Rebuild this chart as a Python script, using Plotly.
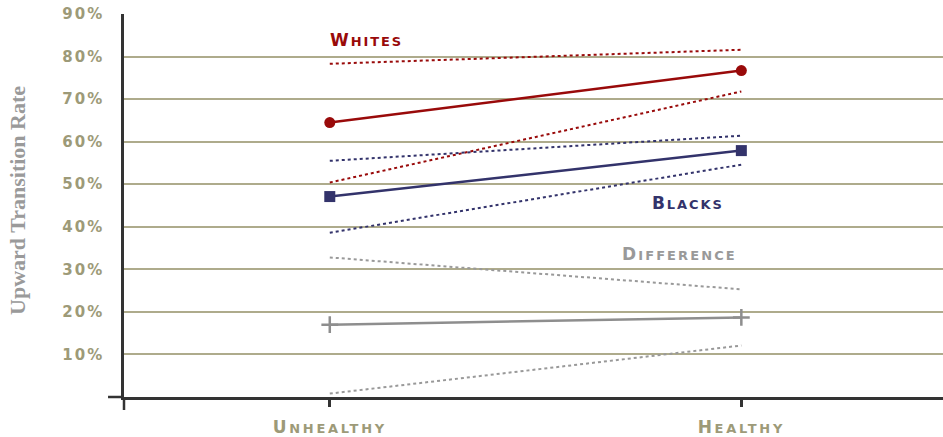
import plotly.graph_objects as go

categories = ["Unhealthy", "Healthy"]
xpos = [0, 1]

whites = [64.5, 76.7]
whites_hi = [78.3, 81.6]
whites_lo = [50.4, 71.8]
blacks = [47.1, 57.9]
blacks_hi = [55.5, 61.4]
blacks_lo = [38.6, 54.6]
diff = [17.0, 18.7]
diff_hi = [32.8, 25.3]
diff_lo = [0.8, 12.1]

y_ticks = [10, 20, 30, 40, 50, 60, 70, 80, 90]
y_ticktext = [f"{v}%" for v in y_ticks]

RED = "#990a0a"
NAVY = "#33336b"
GRAY = "#999999"
OLIVE = "#9d9a78"
GRID = "#aeab8c"
AX = "#333333"


def smallcaps(word, small, spacing):
    return (f"<span style='letter-spacing:{spacing}px'>{word[0].upper()}"
            f"<span style='font-size:{small}px'>{word[1:].upper()}</span></span>")


fig = go.Figure()


def dotted(y, color):
    fig.add_trace(go.Scatter(x=xpos, y=y, mode="lines",
                             line=dict(color=color, width=2, dash="dot"),
                             showlegend=False, hoverinfo="skip"))


for yy, c in [(whites_hi, RED), (whites_lo, RED), (blacks_hi, NAVY), (blacks_lo, NAVY),
              (diff_hi, GRAY), (diff_lo, GRAY)]:
    dotted(yy, c)

fig.add_trace(go.Scatter(x=xpos, y=whites, mode="lines+markers",
                         line=dict(color=RED, width=2.5),
                         marker=dict(symbol="circle", size=11, color=RED), showlegend=False))
fig.add_trace(go.Scatter(x=xpos, y=blacks, mode="lines+markers",
                         line=dict(color=NAVY, width=2.5),
                         marker=dict(symbol="square", size=11, color=NAVY), showlegend=False))
fig.add_trace(go.Scatter(x=xpos, y=diff, mode="lines+markers",
                         line=dict(color="#8e8e8e", width=2.5),
                         marker=dict(symbol="cross-thin", size=12, color="#8e8e8e",
                                     line=dict(color="#8e8e8e", width=2.5)), showlegend=False))

ann_font = dict(family="DejaVu Sans", size=17, weight="bold")
fig.add_annotation(x=0.088, y=83.9, text=smallcaps("Whites", 13, 1.9), showarrow=False,
                   font=dict(ann_font, color=RED))
fig.add_annotation(x=0.871, y=45.7, text=smallcaps("Blacks", 13, 1.9), showarrow=False,
                   font=dict(ann_font, color=NAVY))
fig.add_annotation(x=0.849, y=33.5, text=smallcaps("Difference", 13, 2.1), showarrow=False,
                   font=dict(ann_font, color=GRAY))

# y-axis title
fig.add_annotation(xref="paper", yref="paper", x=-0.1294, y=0.512, textangle=-90,
                   xanchor="center", yanchor="middle",
                   text="Upward Transition Rate", showarrow=False,
                   font=dict(family="Liberation Serif", size=22, color="#9a9a9a", weight="bold"))

# axis crossing extensions (paper-referenced so they are not clipped)
fig.add_shape(type="line", xref="paper", yref="paper", x0=0, x1=0, y0=0, y1=-0.034,
              line=dict(color=AX, width=2.5))
fig.add_shape(type="line", xref="paper", yref="paper", x0=-0.0195, x1=0, y0=0, y1=0,
              line=dict(color=AX, width=2.5))

fig.update_layout(
    width=943, height=437,
    margin=dict(l=124, r=0, t=14, b=40),
    paper_bgcolor="white", plot_bgcolor="white",
    xaxis=dict(range=[-0.5, 1.49], tickvals=xpos,
               ticktext=[smallcaps(c, 13, 2.7) for c in categories],
               showgrid=False, zeroline=False, showline=True, linecolor=AX, linewidth=2.5,
               ticks="outside", ticklen=7, tickwidth=2.5, tickcolor=AX,
               ticklabelstandoff=6, automargin=False,
               tickfont=dict(family="DejaVu Sans", size=17, color=OLIVE, weight="bold")),
    yaxis=dict(range=[0, 90], tickvals=y_ticks,
               ticktext=[f"<span style='letter-spacing:2px'>{t}</span>" for t in y_ticktext],
               showgrid=True, gridcolor=GRID, gridwidth=1.5, zeroline=False,
               showline=True, linecolor=AX, linewidth=2.5, ticks="",
               ticklabelstandoff=14, automargin=False,
               tickfont=dict(family="DejaVu Sans", size=15, color=OLIVE, weight="bold")),
)

fig.write_html("out.html", config={"displayModeBar": False},
               post_script="document.body.style.margin='0';document.body.style.overflow='hidden';")
